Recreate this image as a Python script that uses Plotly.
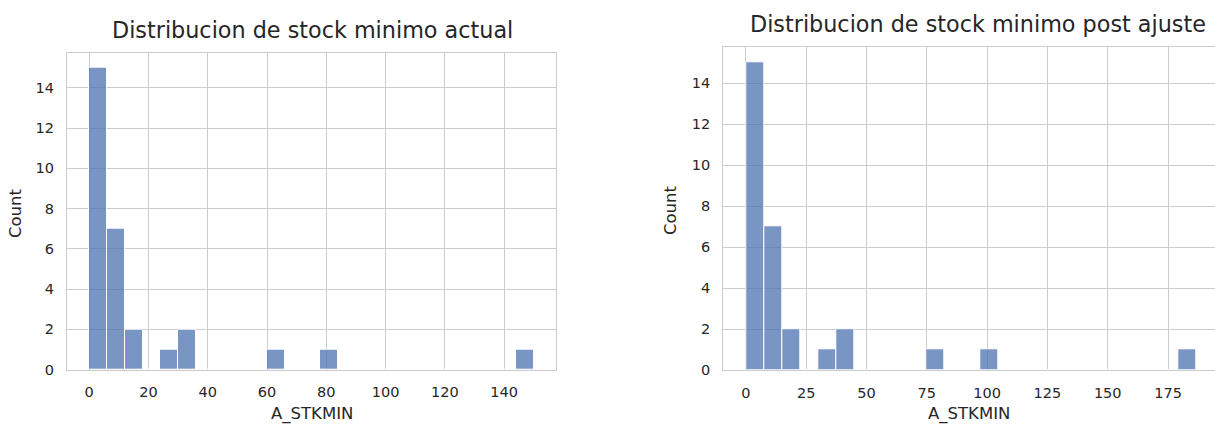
import plotly.graph_objects as go

# ---- data ----
actual_bin_start = 0.0
actual_bin_width = 6.0
actual_counts = [15, 7, 2, 0, 1, 2, 0, 0, 0, 0, 1, 0, 0, 1, 0, 0, 0, 0, 0, 0, 0, 0, 0, 0, 1]

post_bin_start = 0.0
post_bin_width = 7.46
post_counts = [15, 7, 2, 0, 1, 2, 0, 0, 0, 0, 1, 0, 0, 1, 0, 0, 0, 0, 0, 0, 0, 0, 0, 0, 1]

left_xticks = [0, 20, 40, 60, 80, 100, 120, 140]
right_xticks = [0, 25, 50, 75, 100, 125, 150, 175]
yticks = [0, 2, 4, 6, 8, 10, 12, 14]

title_left = "Distribucion de stock minimo actual"
title_right = "Distribucion de stock minimo post ajuste"
xlabel = "A_STKMIN"
ylabel = "Count"

# ---- style ----
W, H = 1215, 426
BAR = "rgba(76,114,176,0.75)"
GRID = "#CCCCCC"
TXT = "#262626"
FONT = "DejaVu Sans"


def bars(start, width, counts, xa, ya):
    xs = [start + i * width for i in range(len(counts))]
    return go.Bar(
        x=xs, y=counts, width=[width] * len(counts), offset=0,
        marker=dict(color=BAR, line=dict(color="white", width=1)),
        xaxis=xa, yaxis=ya, showlegend=False, hoverinfo="x+y",
    )


fig = go.Figure()
fig.add_trace(bars(actual_bin_start, actual_bin_width, actual_counts, "x", "y"))
fig.add_trace(bars(post_bin_start, post_bin_width, post_counts, "x2", "y2"))


def px_x(p):
    return p / W


def px_y(p):
    return 1 - p / H


a_max = actual_bin_start + actual_bin_width * len(actual_counts)
p_max = post_bin_start + post_bin_width * len(post_counts)
ymax = max(max(actual_counts), max(post_counts)) * 1.05

# right panel is cropped by the picture's right edge
r_left_px, r_full_right_px, r_vis_right_px = 723.3, 1218.3, 1215.0
r_lo = -0.05 * p_max
r_hi = r_lo + 1.1 * p_max * (r_vis_right_px - r_left_px) / (r_full_right_px - r_left_px)

common_axis = dict(
    showgrid=True, gridcolor=GRID, gridwidth=1,
    showline=True, linecolor=GRID, linewidth=1.2,
    zeroline=False, ticks="", automargin=False,
    tickfont=dict(family=FONT, size=14.5, color=TXT),
)

fig.update_layout(
    width=W, height=H,
    margin=dict(l=0, r=0, t=0, b=0),
    paper_bgcolor="white", plot_bgcolor="white",
    bargap=0,
    xaxis=dict(domain=[px_x(67), px_x(556)], anchor="y", mirror=True,
               range=[-0.05 * a_max, 1.05 * a_max],
               tickvals=left_xticks, ticklabelstandoff=9, **common_axis),
    yaxis=dict(domain=[px_y(369.5), px_y(52.7)], anchor="x", mirror=True,
               range=[0, ymax], tickvals=yticks, ticklabelstandoff=9, **common_axis),
    xaxis2=dict(domain=[px_x(r_left_px), 1.0], anchor="y2", mirror=True,
                range=[r_lo, r_hi],
                tickvals=right_xticks, ticklabelstandoff=9, **common_axis),
    yaxis2=dict(domain=[px_y(370), px_y(47.3)], anchor="x2", mirror=False,
                range=[0, ymax], tickvals=yticks, ticklabelstandoff=9, **common_axis),
)

ann = []
ann.append(dict(text=title_left, x=px_x(312), y=px_y(30), xref="paper", yref="paper",
                showarrow=False, font=dict(family=FONT, size=22.3, color=TXT),
                xanchor="center", yanchor="middle"))
ann.append(dict(text=title_right, x=px_x(978), y=px_y(24), xref="paper", yref="paper",
                showarrow=False, font=dict(family=FONT, size=22.3, color=TXT),
                xanchor="center", yanchor="middle"))
for cx in (312, 969):
    ann.append(dict(text=xlabel, x=px_x(cx), y=px_y(413.5), xref="paper", yref="paper",
                    showarrow=False, font=dict(family=FONT, size=16.5, color=TXT),
                    xanchor="center", yanchor="middle"))
for cx, cy in ((15, 213), (670, 210)):
    ann.append(dict(text=ylabel, x=px_x(cx), y=px_y(cy), xref="paper", yref="paper",
                    showarrow=False, textangle=-90, font=dict(family=FONT, size=16.5, color=TXT),
                    xanchor="center", yanchor="middle"))
fig.update_layout(annotations=ann)

fig.write_html("out.html", config={"displayModeBar": False},
               post_script="document.body.style.margin='0';")
